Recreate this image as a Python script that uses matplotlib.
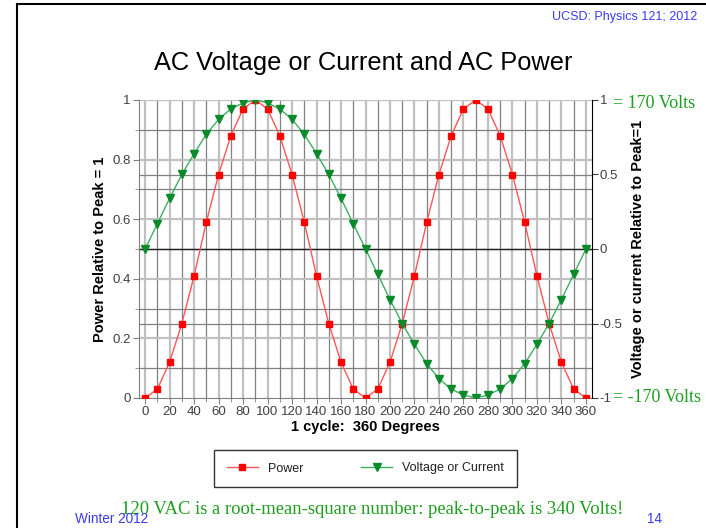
import matplotlib
matplotlib.use("Agg")
import matplotlib.pyplot as plt
from matplotlib.lines import Line2D

# ---- data ----
degrees = [0, 10, 20, 30, 40, 50, 60, 70, 80, 90, 100, 110, 120, 130, 140, 150, 160, 170, 180,
           190, 200, 210, 220, 230, 240, 250, 260, 270, 280, 290, 300, 310, 320, 330, 340, 350, 360]
power = [0.0, 0.03, 0.12, 0.25, 0.41, 0.59, 0.75, 0.88, 0.97, 1.0, 0.97, 0.88, 0.75, 0.59, 0.41, 0.25, 0.12, 0.03, 0.0,
         0.03, 0.12, 0.25, 0.41, 0.59, 0.75, 0.88, 0.97, 1.0, 0.97, 0.88, 0.75, 0.59, 0.41, 0.25, 0.12, 0.03, 0.0]
voltage = [0.0, 0.17, 0.34, 0.5, 0.64, 0.77, 0.87, 0.94, 0.98, 1.0, 0.98, 0.94, 0.87, 0.77, 0.64, 0.5, 0.34, 0.17, 0.0,
           -0.17, -0.34, -0.5, -0.64, -0.77, -0.87, -0.94, -0.98, -1.0, -0.98, -0.94, -0.87, -0.77, -0.64, -0.5, -0.34, -0.17, 0.0]
x_ticks = list(range(0, 361, 20))
left_ticks = [0, 0.2, 0.4, 0.6, 0.8, 1.0]
left_labels = ["0", "0.2", "0.4", "0.6", "0.8", "1"]
right_ticks = [-1, -0.5, 0, 0.5, 1]
right_labels = ["-1", "-0.5", "0", "0.5", "1"]

plt.rcParams['font.family'] = ['Liberation Sans', 'DejaVu Sans']

W, H = 706, 528
fig = plt.figure(figsize=(W / 100, H / 100), dpi=100)

def fx(px):
    return px / W

def fy(py):
    return 1 - py / H

# slide border (top & left)
fig.add_artist(Line2D([fx(17), fx(17)], [fy(4), 0], color='black', lw=1.5))
fig.add_artist(Line2D([fx(17), 1], [fy(4), fy(4)], color='black', lw=1.5))

ax = fig.add_axes([fx(139), fy(398), fx(592) - fx(139), fy(100) - fy(398)])
ax.set_xlim(-5, 365)
ax.set_ylim(0, 1)

# grid
light = '#c0c0c0'
dark = '#808080'
for d in degrees:
    if d % 20 == 0:
        ax.axvline(d, color=light, lw=1.6, zorder=0)
    else:
        ax.axvline(d, color=dark, lw=0.9, zorder=0)
for i in range(1, 11):
    v = i / 10
    if i % 2 == 0:
        ax.axhline(v, color=light, lw=1.6, zorder=0)
    else:
        ax.axhline(v, color=dark, lw=0.9, zorder=0)
for v in (0.25, 0.75):
    ax.axhline(v, color=dark, lw=0.9, zorder=0)
ax.axhline(0.5, color='#202020', lw=1.0, zorder=1)

ax.plot(degrees, power, color='#ff5555', lw=1.0, marker='s', ms=4.5,
        mfc='#ff0000', mec='#ff0000', zorder=3, label='Power')

ax2 = ax.twinx()
ax2.set_ylim(-1, 1)
ax2.plot(degrees, voltage, color='#3cb060', lw=1.0, marker='v', ms=5.8,
         mfc='#0a8a2a', mec='#0a8a2a', zorder=3, label='Voltage or Current')

# axes styling
for a in (ax, ax2):
    a.spines['top'].set_visible(False)
ax.spines['left'].set_color(dark)
ax.spines['bottom'].set_color(dark)
ax.spines['right'].set_visible(False)
ax2.spines['left'].set_visible(False)
ax2.spines['bottom'].set_visible(False)
ax2.spines['right'].set_color('black')

ax.set_xticks(x_ticks)
ax.set_xticklabels([str(t) for t in x_ticks])
ax.set_xticks([d for d in degrees if d % 20 != 0], minor=True)
ax.set_yticks(left_ticks)
ax.set_yticklabels(left_labels)
ax.set_yticks([0.1, 0.3, 0.5, 0.7, 0.9], minor=True)
ax.tick_params(axis='both', which='major', labelsize=9.5, colors=dark, labelcolor='#404040', length=4, pad=2)
ax.tick_params(axis='both', which='minor', colors=dark, length=3)
ax2.set_yticks(right_ticks)
ax2.set_yticklabels(right_labels)
ax2.tick_params(axis='y', labelsize=9.5, colors='#404040', labelcolor='#404040', length=4, pad=1.5)

ax.set_xlabel('1 cycle:  360 Degrees', fontsize=10.5, fontweight='bold', labelpad=1)
ax.set_ylabel('Power Relative to Peak = 1', fontsize=10.5, fontweight='bold', labelpad=4)
ax2.set_ylabel('Voltage or current Relative to Peak=1', fontsize=10.5, fontweight='bold', labelpad=6)

green = '#1e9e1e'
fig.text(fx(613), fy(104), '= 170 Volts', color=green, fontsize=13, family='Liberation Serif', va='center', ha='left')
fig.text(fx(613), fy(398), '= -170 Volts', color=green, fontsize=13, family='Liberation Serif', va='center', ha='left')

# title and slide texts
fig.text(fx(363), fy(63), 'AC Voltage or Current and AC Power', fontsize=18.3, ha='center', va='center', color='black')
fig.text(fx(697), fy(17), 'UCSD: Physics 121; 2012', fontsize=9, ha='right', va='center', color='#3a3af0')
fig.text(fx(372), fy(509), '120 VAC is a root-mean-square number: peak-to-peak is 340 Volts!',
         fontsize=13.4, ha='center', va='center', color=green, family='Liberation Serif')
fig.text(fx(75), fy(519), 'Winter 2012', fontsize=9.8, ha='left', va='center', color='#3a3af0')
fig.text(fx(655), fy(519), '14', fontsize=9.8, ha='center', va='center', color='#3a3af0')

# legend
h1, l1 = ax.get_legend_handles_labels()
h2, l2 = ax2.get_legend_handles_labels()
leg = fig.legend(h1 + h2, l1 + l2, loc='center', bbox_to_anchor=(fx(208), fy(490), fx(523) - fx(208), fy(447) - fy(490)),
                 mode='expand', ncol=2, fontsize=9, frameon=True, fancybox=False, edgecolor='black',
                 handlelength=2.5, borderpad=1.0, columnspacing=4)
leg.get_frame().set_linewidth(1.0)
for t in leg.get_texts():
    t.set_color('#202020')

fig.savefig('out.png', dpi=100)
